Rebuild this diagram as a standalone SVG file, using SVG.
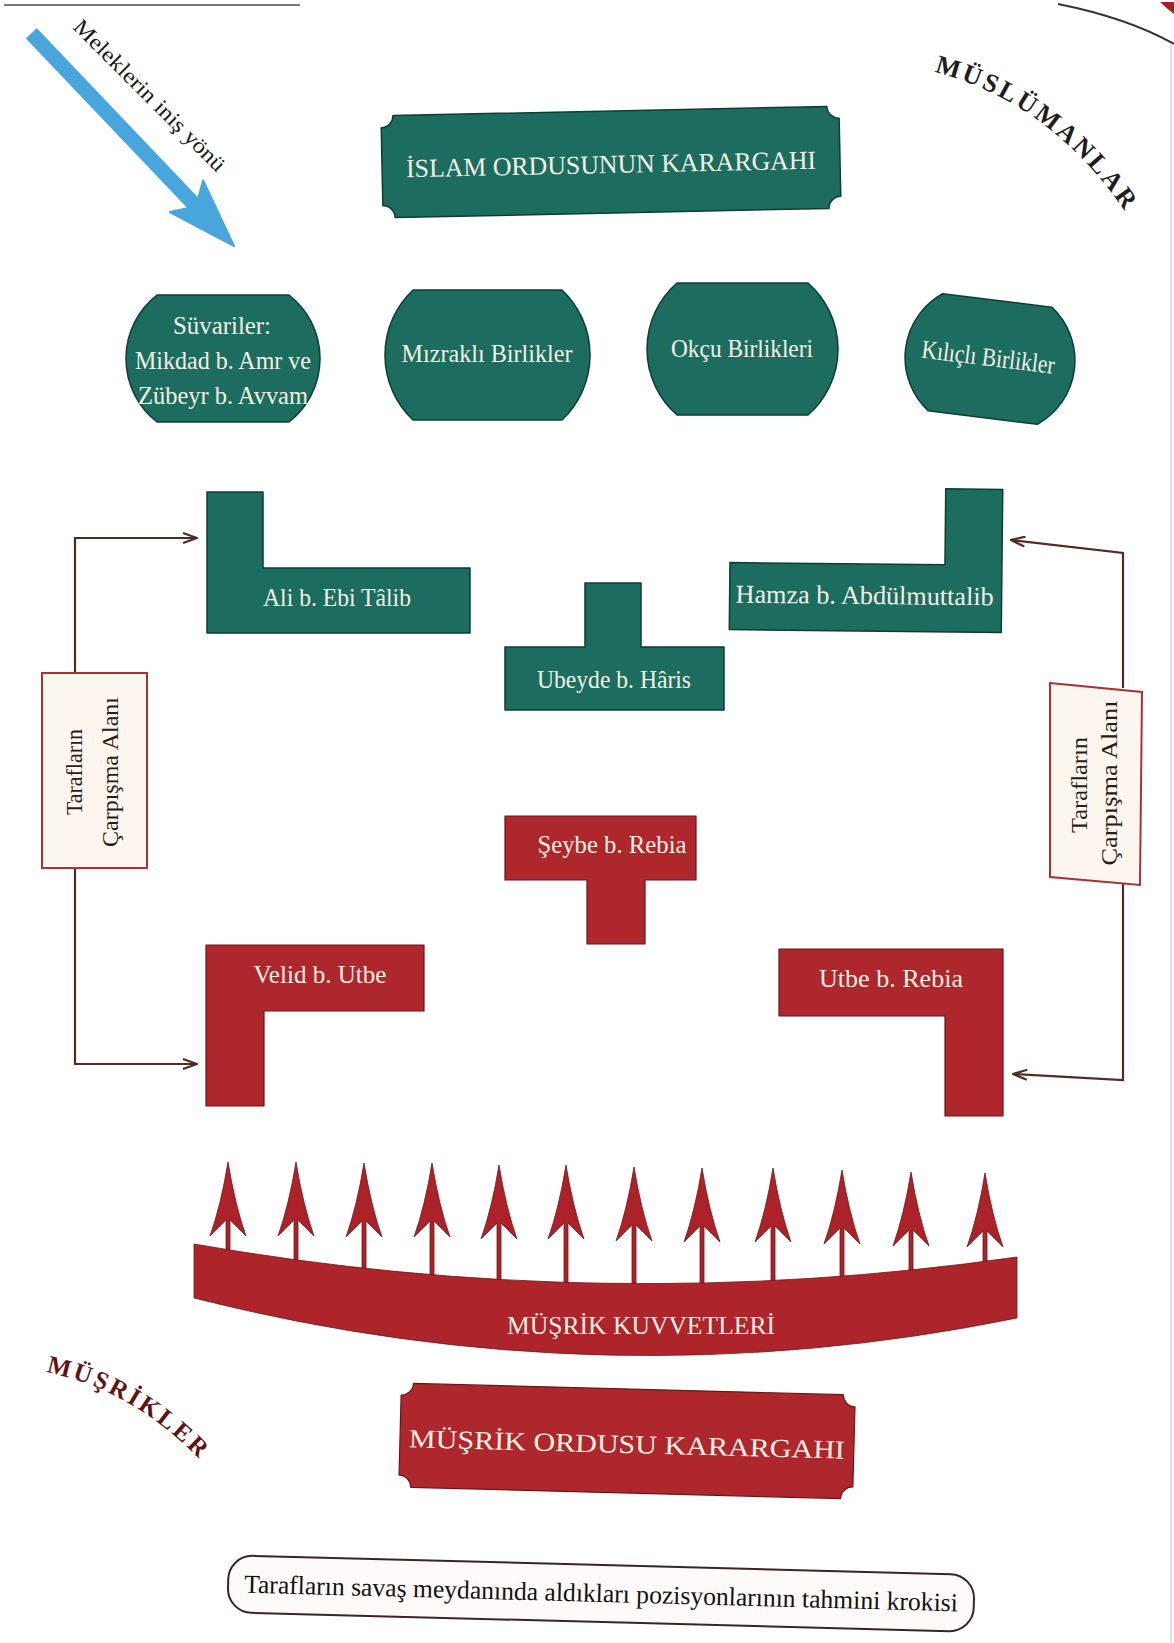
<svg xmlns="http://www.w3.org/2000/svg" width="1174" height="1643" viewBox="0 0 1174 1643">
<style>
.g{fill:#1c6d5f;stroke:#0e3d34;stroke-width:1.5;stroke-linejoin:round}
.r{fill:#ae272c;stroke:#6e1519;stroke-width:1.2;stroke-linejoin:round}
.t{font-family:"Liberation Serif","DejaVu Serif",serif;font-size:26px;fill:#f3f0e4;text-anchor:middle}
.vt{font-family:"Liberation Serif","DejaVu Serif",serif;font-size:24px;fill:#2a1a18;text-anchor:middle}
.con{fill:none;stroke:#4f2c26;stroke-width:2.2}
.zone{fill:#fdf6ee;stroke:#a5333a;stroke-width:2}
.caps{font-family:"Liberation Serif","DejaVu Serif",serif;font-weight:bold}
</style>
<defs>
<marker id="ah" viewBox="0 0 16 12" refX="15" refY="6" markerWidth="16" markerHeight="12" markerUnits="userSpaceOnUse" orient="auto">
<path d="M1,1 L15,6 L1,11" fill="none" stroke="#4f2c26" stroke-width="2.2"/>
</marker>
<path id="pMus" d="M934,72 Q1054,102 1132,222"/>
<path id="pMusr" d="M46,1372 Q134,1390 202,1462"/>
</defs>
<rect x="0" y="0" width="1174" height="1643" fill="#ffffff"/>
<!-- page decorations -->
<line x1="4" y1="5" x2="300" y2="5" stroke="#777" stroke-width="2"/>
<path d="M1058,4 Q1128,18 1174,44" fill="none" stroke="#333" stroke-width="2"/>
<path d="M1160,2 L1174,2 L1174,14 Q1166,8 1160,2 Z" fill="#a02228"/>
<line x1="1171" y1="44" x2="1171" y2="1643" stroke="#d9d9d9" stroke-width="1.5"/>

<!-- angels arrow -->
<g id="angels">
<path transform="translate(32,34) rotate(46.4)" d="M0,-6.5 L234,-6.5 L224,-23 L293,0 L224,23 L234,6.5 L0,6.5 Z" fill="#48a6dd" stroke="#48a6dd" stroke-width="2" stroke-linejoin="round"/>
<text transform="translate(72,28) rotate(45)" x="0" y="0" font-family="Liberation Serif, serif" font-size="22" fill="#1a1a1a" textLength="205" lengthAdjust="spacingAndGlyphs">Meleklerin iniş yönü</text>
</g>

<text class="caps" font-size="26" fill="#1e1e1e" letter-spacing="3"><textPath href="#pMus">MÜSLÜMANLAR</textPath></text>
<text class="caps" font-size="25" fill="#5e1416" letter-spacing="3"><textPath href="#pMusr">MÜŞRİKLER</textPath></text>

<!-- connectors -->
<g id="connectors">
<path class="con" d="M75,673 L75,538 L197,538" marker-end="url(#ah)"/>
<path class="con" d="M75,868 L75,1064 L197,1064" marker-end="url(#ah)"/>
<path class="con" d="M1123,688 L1123,553 L1011,540" marker-end="url(#ah)"/>
<path class="con" d="M1123,882 L1123,1080 L1013,1074" marker-end="url(#ah)"/>
</g>

<!-- Islam HQ -->
<g id="islam-hq" transform="rotate(-1.2,611,162)">
<path class="g" d="M394,111 L828,111 A12,12 0 0 0 840,123 L840,201 A12,12 0 0 0 828,213 L394,213 A12,12 0 0 0 382,201 L382,123 A12,12 0 0 0 394,111 Z"/>
<text class="t" x="611" y="173" font-size="31" textLength="410" lengthAdjust="spacingAndGlyphs">İSLAM ORDUSUNUN KARARGAHI</text>
</g>

<g id="suvariler">
<path class="g" d="M157,295 L289,295 A80.5,80.5 0 0 1 289,422 L157,422 A80.5,80.5 0 0 1 157,295 Z"/>
<text class="t" x="222" y="334" textLength="98" lengthAdjust="spacingAndGlyphs">Süvariler:</text>
<text class="t" x="223" y="369" textLength="176" lengthAdjust="spacingAndGlyphs">Mikdad b. Amr ve</text>
<text class="t" x="223" y="404" textLength="170" lengthAdjust="spacingAndGlyphs">Zübeyr b. Avvam</text>
</g>
<g id="mizrakli">
<path class="g" d="M413,290 L562,290 A89.4,89.4 0 0 1 562,420 L413,420 A89.4,89.4 0 0 1 413,290 Z"/>
<text class="t" x="487" y="362" textLength="171" lengthAdjust="spacingAndGlyphs">Mızraklı Birlikler</text>
</g>
<g id="okcu">
<path class="g" d="M677,283 L808,283 A87.6,87.6 0 0 1 808,415 L677,415 A87.6,87.6 0 0 1 677,283 Z"/>
<text class="t" x="742" y="357" textLength="142" lengthAdjust="spacingAndGlyphs">Okçu Birlikleri</text>
</g>
<g id="kilicli" transform="rotate(7,990,359)">
<path class="g" d="M935,300 L1045,300 A73,73 0 0 1 1045,418 L935,418 A73,73 0 0 1 935,300 Z"/>
<text class="t" x="988" y="366" textLength="134" lengthAdjust="spacingAndGlyphs">Kılıçlı Birlikler</text>
</g>

<g id="ali">
<path class="g" d="M207,492 L263,492 L263,568 L470,568 L470,633 L207,633 Z"/>
<text class="t" x="337" y="606" textLength="148" lengthAdjust="spacingAndGlyphs">Ali b. Ebi Tâlib</text>
</g>
<g id="hamza" transform="rotate(0.6,866,560)">
<path class="g" d="M945,488 L1002,488 L1002,631 L730,631 L730,564 L945,564 Z"/>
<text class="t" x="865" y="604" textLength="258" lengthAdjust="spacingAndGlyphs">Hamza b. Abdülmuttalib</text>
</g>
<g id="ubeyde">
<path class="g" d="M585,583 L641,583 L641,647 L724,647 L724,710 L505,710 L505,647 L585,647 Z"/>
<text class="t" x="614" y="688" textLength="154" lengthAdjust="spacingAndGlyphs">Ubeyde b. Hâris</text>
</g>

<g id="zone-left">
<rect class="zone" x="42" y="673" width="105" height="195"/>
<text class="vt" transform="translate(82,772) rotate(-90)" textLength="86" lengthAdjust="spacingAndGlyphs">Tarafların</text>
<text class="vt" transform="translate(118,772) rotate(-90)" textLength="150" lengthAdjust="spacingAndGlyphs">Çarpışma  Alanı</text>
</g>
<g id="zone-right">
<path class="zone" d="M1050,683 L1142,692 L1140,885 L1050,877 Z"/>
<text class="vt" transform="translate(1087,785) rotate(-90)" textLength="96" lengthAdjust="spacingAndGlyphs">Tarafların</text>
<text class="vt" transform="translate(1117,783) rotate(-90)" textLength="165" lengthAdjust="spacingAndGlyphs">Çarpışma  Alanı</text>
</g>

<g id="seybe">
<path class="r" d="M505,816 L696,816 L696,880 L645,880 L645,944 L587,944 L587,880 L505,880 Z"/>
<text class="t" x="612" y="853" textLength="149" lengthAdjust="spacingAndGlyphs">Şeybe b. Rebia</text>
</g>
<g id="velid">
<path class="r" d="M206,945 L424,945 L424,1011 L264,1011 L264,1106 L206,1106 Z"/>
<text class="t" x="320" y="983" textLength="133" lengthAdjust="spacingAndGlyphs">Velid b. Utbe</text>
</g>
<g id="utbe">
<path class="r" d="M779,949 L1003,949 L1003,1116 L945,1116 L945,1016 L779,1016 Z"/>
<text class="t" x="891" y="987" textLength="144" lengthAdjust="spacingAndGlyphs">Utbe b. Rebia</text>
</g>

<!-- musrik forces with spears -->
<g id="musrik-forces" fill="#ab2328" stroke="#6e1519" stroke-width="0.8" stroke-linejoin="round">
<path d="M228,1162 Q235,1205 246,1236 L230,1220 L230,1258 L226,1258 L226,1220 L210,1236 Q221,1205 228,1162 Z"/>
<path d="M296,1162 Q303,1205 314,1236 L298,1220 L298,1268 L294,1268 L294,1220 L278,1236 Q289,1205 296,1162 Z"/>
<path d="M364,1163 Q371,1206 382,1237 L366,1221 L366,1276 L362,1276 L362,1221 L346,1237 Q357,1206 364,1163 Z"/>
<path d="M432,1163 Q439,1206 450,1237 L434,1221 L434,1283 L430,1283 L430,1221 L414,1237 Q425,1206 432,1163 Z"/>
<path d="M499,1165 Q506,1208 517,1239 L501,1223 L501,1287 L497,1287 L497,1223 L481,1239 Q492,1208 499,1165 Z"/>
<path d="M566,1165 Q573,1208 584,1239 L568,1223 L568,1290 L564,1290 L564,1223 L548,1239 Q559,1208 566,1165 Z"/>
<path d="M634,1167 Q641,1210 652,1241 L636,1225 L636,1292 L632,1292 L632,1225 L616,1241 Q627,1210 634,1167 Z"/>
<path d="M702,1168 Q709,1211 720,1242 L704,1226 L704,1291 L700,1291 L700,1226 L684,1242 Q695,1211 702,1168 Z"/>
<path d="M773,1168 Q780,1211 791,1242 L775,1226 L775,1288 L771,1288 L771,1226 L755,1242 Q766,1211 773,1168 Z"/>
<path d="M842,1170 Q849,1213 860,1244 L844,1228 L844,1284 L840,1284 L840,1228 L824,1244 Q835,1213 842,1170 Z"/>
<path d="M911,1172 Q918,1215 929,1246 L913,1230 L913,1278 L909,1278 L909,1230 L893,1246 Q904,1215 911,1172 Z"/>
<path d="M985,1173 Q992,1216 1003,1247 L987,1231 L987,1269 L983,1269 L983,1231 L967,1247 Q978,1216 985,1173 Z"/>
<path d="M194,1244 Q605,1316 1017,1257 L1017,1318 Q605,1402 194,1298 Z" fill="#ad252a"/>
<text class="t" x="641" y="1334" font-size="24" textLength="268" lengthAdjust="spacingAndGlyphs" stroke="none">MÜŞRİK KUVVETLERİ</text>
</g>

<g id="musrik-hq" transform="rotate(1.5,627,1441)">
<path class="r" d="M412,1389 L842,1389 A12,12 0 0 0 854,1401 L854,1481 A12,12 0 0 0 842,1493 L412,1493 A12,12 0 0 0 400,1481 L400,1401 A12,12 0 0 0 412,1389 Z"/>
<text class="t" x="627" y="1453" font-size="34" textLength="436" lengthAdjust="spacingAndGlyphs">MÜŞRİK ORDUSU KARARGAHI</text>
</g>

<g id="caption" transform="rotate(1.5,601,1593)">
<rect x="228" y="1565" width="746" height="57" rx="24" ry="24" fill="#fffafa" stroke="#3a2424" stroke-width="2"/>
<text x="601" y="1602" font-family="Liberation Serif, serif" font-size="26" fill="#111" text-anchor="middle" textLength="714" lengthAdjust="spacingAndGlyphs">Tarafların savaş meydanında aldıkları pozisyonlarının tahmini krokisi</text>
</g>
</svg>
